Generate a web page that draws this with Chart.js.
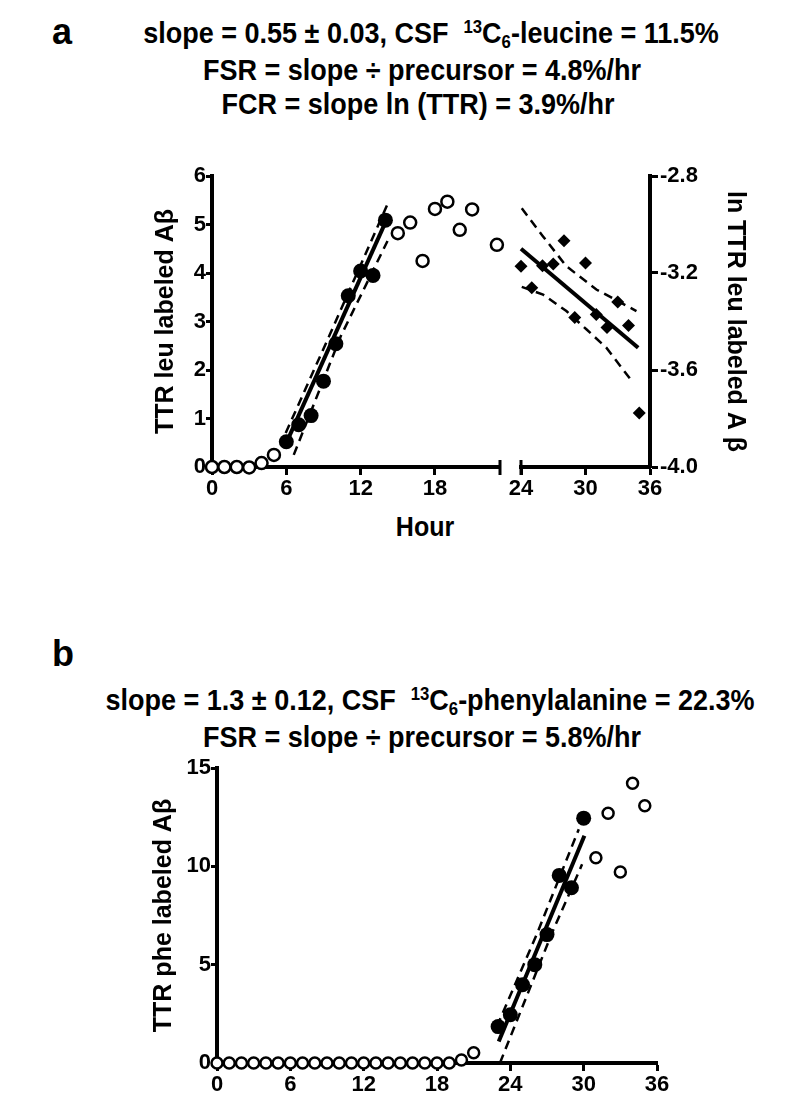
<!DOCTYPE html>
<html>
<head>
<meta charset="utf-8">
<script src="https://cdn.jsdelivr.net/npm/chart.js@4/dist/chart.umd.min.js"></script>
<style>
  html, body { margin: 0; padding: 0; background: #fff; }
  body { width: 800px; height: 1111px; position: relative; overflow: hidden;
         font-family: "Liberation Sans", Arial, sans-serif; font-weight: bold; color: #000; }
  canvas { position: absolute; }
  .t { position: absolute; white-space: nowrap; line-height: 30px; transform: translateX(-50%) scaleY(1.1); }
  .p { position: absolute; line-height: 36px; font-size: 36px; }
  sup, sub { font-size: 0.62em; line-height: 0; }
  sup { vertical-align: 0.55em; }
  sub { vertical-align: -0.3em; }
</style>
</head>
<body>
<div class="p" style="left:52px;top:14px">a</div>
<div class="t" style="left:431px;top:18px;font-size:27px">slope = 0.55 ± 0.03, CSF &nbsp;<sup>13</sup>C<sub>6</sub>-leucine = 11.5%</div>
<div class="t" style="left:422px;top:55px;font-size:27px">FSR = slope ÷ precursor = 4.8%/hr</div>
<div class="t" style="left:418px;top:89px;font-size:27px">FCR = slope ln (TTR) = 3.9%/hr</div>
<div class="t" style="left:425px;top:511px;font-size:25px">Hour</div>

<div class="p" style="left:52px;top:636px">b</div>
<div class="t" style="left:430px;top:685px;font-size:27px">slope = 1.3 ± 0.12, CSF &nbsp;<sup>13</sup>C<sub>6</sub>-phenylalanine = 22.3%</div>
<div class="t" style="left:422px;top:722px;font-size:27px">FSR = slope ÷ precursor = 5.8%/hr</div>

<canvas id="chartA1" width="520" height="370" style="left:0;top:150px"></canvas>
<canvas id="chartA2" width="300" height="370" style="left:500px;top:150px"></canvas>
<canvas id="chartB" width="800" height="371" style="left:0;top:740px"></canvas>

<script>
// ---- panel a, TTR leu labeled Abeta (hours 0-23) ----
const hoursOpenA = [0, 1, 2, 3, 4, 5, 15, 16, 17, 18, 19, 20, 21, 23];
const ttrOpenA = [0, 0, 0, -0.01, 0.08, 0.25, 4.82, 5.04, 4.25, 5.32, 5.47, 4.89, 5.31, 4.58];
const hoursFitA = [6, 7, 8, 9, 10, 11, 12, 13, 14];
const ttrFitA = [0.52, 0.87, 1.06, 1.77, 2.54, 3.53, 4.04, 3.95, 5.09];
const lineHoursA = [5.81, 13.99];
const lineValsA = [0.39, 5.04];
const upperHoursA = [5.95, 9.46, 14.12];
const upperValsA = [0.70, 2.70, 5.39];
const lowerHoursA = [6.6, 10.4, 14.17];
const lowerValsA = [0.25, 2.70, 4.66];

// ---- panel a, ln TTR (hours 24-36) ----
const hoursLnA = [24, 25, 26, 27, 28, 29, 30, 31, 32, 33, 34, 35];
const lnTtrA = [-3.172, -3.261, -3.170, -3.163, -3.067, -3.384, -3.159, -3.371, -3.425, -3.320, -3.416, -3.777];
const lnLineHours = [24, 34.9];
const lnLineVals = [-3.10, -3.508];
const lnUpperHours = [24.07, 26.05, 28.22, 31.01, 34.74];
const lnUpperVals = [-2.933, -3.049, -3.172, -3.268, -3.357];
const lnLowerHours = [24.07, 26.05, 28.22, 30.08, 31.94, 34.4];
const lnLowerVals = [-3.257, -3.289, -3.357, -3.432, -3.508, -3.651];

// ---- panel b, TTR phe labeled Abeta ----
const hoursOpenB = [0, 1, 2, 3, 4, 5, 6, 7, 8, 9, 10, 11, 12, 13, 14, 15, 16, 17, 18, 19, 20, 21, 31, 32, 33, 34, 35];
const ttrOpenB = [0, 0, 0, 0, 0, 0, 0, 0, 0, 0, 0, 0, 0, 0, 0, 0, 0, 0, 0, 0, 0.15, 0.52, 10.44, 12.70, 9.71, 14.22, 13.08];
const hoursFitB = [23, 24, 25, 26, 27, 28, 29, 30];
const ttrFitB = [1.85, 2.45, 3.98, 5.0, 6.53, 9.54, 8.91, 12.45];
const lineHoursB = [23.05, 30.06];
const lineValsB = [1.09, 11.55];
const upperHoursB = [22.9, 26.2, 29.6];
const upperValsB = [1.85, 6.6, 11.89];
const lowerHoursB = [23.15, 27.4, 29.87];
const lowerValsB = [0.0, 6.6, 10.1];

const xTicksA1 = [0, 6, 12, 18];
const xTicksA2 = [24, 30, 36];

function pts(xs, ys) {
  return xs.map(function (x, i) { return { x: x, y: ys[i] }; });
}

const FONT = "'Liberation Sans', Arial, sans-serif";
const tickFont = { family: FONT, size: 22, weight: 'bold' };
const titleFont = { family: FONT, size: 25, weight: 'bold' };

function axisStyle(tickLength) {
  return {
    grid: { display: true, drawOnChartArea: false, drawTicks: true, tickLength: tickLength, tickWidth: 3, tickColor: '#000' },
    border: { display: true, width: 4, color: '#000' }
  };
}

function openSet(data, r) {
  return { data: data, pointStyle: 'circle', pointRadius: r, pointBorderWidth: 2.5,
           pointBackgroundColor: '#fff', pointBorderColor: '#000', showLine: false, clip: false, order: 1 };
}
function filledSet(data, r, style) {
  return { data: data, pointStyle: style || 'circle', pointRadius: r, pointBorderWidth: 0,
           pointBackgroundColor: '#000', pointBorderColor: '#000', showLine: false, clip: false, order: 0 };
}
function lineSet(data, dashed) {
  return { data: data, showLine: true, pointRadius: 0, borderColor: '#000',
           borderWidth: dashed ? 2.5 : 4, borderDash: dashed ? [9, 6] : [], fill: false, clip: false, order: 2 };
}

// little end bar where the x axis is broken
const breakCap = {
  id: 'breakCap',
  afterDraw: function (chart, args, opts) {
    if (!opts.side) return;
    const ctx = chart.ctx;
    const a = chart.chartArea;
    const x = opts.side === 'right' ? a.right : a.left;
    ctx.save();
    ctx.strokeStyle = '#000';
    ctx.lineWidth = 3;
    ctx.beginPath();
    ctx.moveTo(x, a.bottom - 7);
    ctx.lineTo(x, a.bottom + 8);
    ctx.stroke();
    ctx.restore();
  }
};
Chart.register(breakCap);

const base = {
  responsive: false,
  animation: false,
  events: [],
  plugins: { legend: { display: false }, tooltip: { enabled: false } }
};

// panel a, left part
new Chart(document.getElementById('chartA1'), {
  type: 'scatter',
  data: {
    datasets: [
      filledSet(pts(hoursFitA, ttrFitA), 7.5),
      openSet(pts(hoursOpenA, ttrOpenA), 6),
      lineSet(pts(lineHoursA, lineValsA), false),
      lineSet(pts(upperHoursA, upperValsA), true),
      lineSet(pts(lowerHoursA, lowerValsA), true)
    ]
  },
  options: Object.assign({}, base, {
    layout: { padding: { left: 151, top: 26, right: 20, bottom: 0 } },
    plugins: Object.assign({}, base.plugins, { breakCap: { side: 'right' } }),
    scales: {
      x: Object.assign(axisStyle(8), {
        type: 'linear', min: 0, max: 23.25,
        afterBuildTicks: function (s) { s.ticks = xTicksA1.map(function (v) { return { value: v }; }); },
        ticks: { font: tickFont, color: '#000', padding: 1, maxRotation: 0 },
        afterFit: function (s) { s.height = 53; }
      }),
      y: Object.assign(axisStyle(6), {
        min: 0, max: 6,
        ticks: { stepSize: 1, font: tickFont, color: '#000', padding: 0 },
        title: { display: true, text: 'TTR leu labeled A\u03b2', font: titleFont, color: '#000', padding: 0 },
        afterFit: function (s) { s.width = 61; }
      })
    }
  })
});

// panel a, right part (ln TTR)
new Chart(document.getElementById('chartA2'), {
  type: 'scatter',
  data: {
    datasets: [
      filledSet(pts(hoursLnA, lnTtrA), 6.5, 'rectRot'),
      lineSet(pts(lnLineHours, lnLineVals), false),
      lineSet(pts(lnUpperHours, lnUpperVals), true),
      lineSet(pts(lnLowerHours, lnLowerVals), true)
    ]
  },
  options: Object.assign({}, base, {
    layout: { padding: { left: 21, top: 26, right: 0, bottom: 0 } },
    plugins: Object.assign({}, base.plugins, { breakCap: { side: 'left' } }),
    scales: {
      x: Object.assign(axisStyle(8), {
        type: 'linear', min: 24, max: 36,
        afterBuildTicks: function (s) { s.ticks = xTicksA2.map(function (v) { return { value: v }; }); },
        ticks: { font: tickFont, color: '#000', padding: 1, maxRotation: 0 },
        afterFit: function (s) { s.height = 53; }
      }),
      y: Object.assign(axisStyle(8), {
        position: 'right', min: -4.0, max: -2.8,
        ticks: { stepSize: 0.4, font: tickFont, color: '#000', padding: 2,
                 callback: function (v) { return v.toFixed(1); } },
        title: { display: true, text: 'ln TTR leu labeled A \u03b2', font: titleFont, color: '#000', padding: { top: 50, bottom: 0 } },
        afterFit: function (s) { s.width = 150; }
      })
    }
  })
});

// panel b
new Chart(document.getElementById('chartB'), {
  type: 'scatter',
  data: {
    datasets: [
      filledSet(pts(hoursFitB, ttrFitB), 7.5),
      openSet(pts(hoursOpenB, ttrOpenB), 5.5),
      lineSet(pts(lineHoursB, lineValsB), false),
      lineSet(pts(upperHoursB, upperValsB), true),
      lineSet(pts(lowerHoursB, lowerValsB), true)
    ]
  },
  options: Object.assign({}, base, {
    layout: { padding: { left: 149, top: 28, right: 143, bottom: 0 } },
    scales: {
      x: Object.assign(axisStyle(8), {
        type: 'linear', min: 0, max: 36,
        ticks: { stepSize: 6, font: tickFont, color: '#000', padding: 1, maxRotation: 0 },
        afterFit: function (s) { s.height = 48; }
      }),
      y: Object.assign(axisStyle(6), {
        min: 0, max: 15,
        ticks: { stepSize: 5, font: tickFont, color: '#000', padding: 0 },
        title: { display: true, text: 'TTR phe labeled A\u03b2', font: titleFont, color: '#000', padding: 0 },
        afterFit: function (s) { s.width = 68; }
      })
    }
  })
});
</script>
</body>
</html>
